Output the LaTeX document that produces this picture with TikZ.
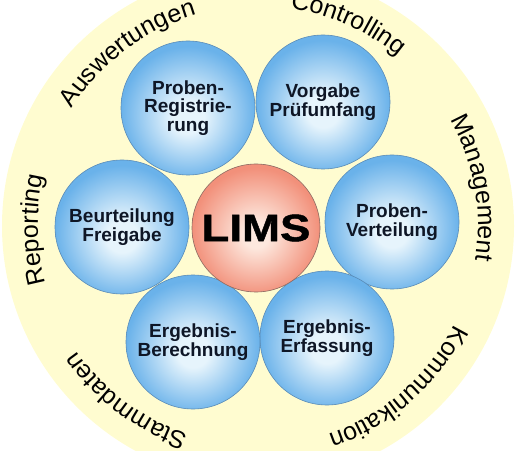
\documentclass[tikz,border=0pt]{standalone}
\usepackage{fontspec}
\setmainfont{Liberation Sans}
\newfontfamily\limsfont{Liberation Sans}[FakeStretch=1.2,FakeBold=1.2]
\usepackage{tikz}
\usetikzlibrary{decorations.text}

\definecolor{ringyellow}{HTML}{FFFCD0}
\definecolor{balledge}{HTML}{6AB2EA}
\definecolor{ballcenter}{HTML}{E6F4FC}
\definecolor{ballline}{HTML}{5A8CB8}
\definecolor{limsedge}{HTML}{F2907A}
\definecolor{limscenter}{HTML}{FDE8DE}
\definecolor{limsline}{HTML}{8C6A62}
\definecolor{balltext}{HTML}{0E1626}

\pgfdeclareradialshading{blueball}{\pgfpoint{0bp}{-4bp}}{color(0bp)=(ballcenter); color(6bp)=(ballcenter); color(25bp)=(balledge); color(50bp)=(balledge)}
\pgfdeclareradialshading{redball}{\pgfpoint{0bp}{-3bp}}{color(0bp)=(limscenter); color(5bp)=(limscenter); color(25bp)=(limsedge); color(50bp)=(limsedge)}

\newcommand\ringfont{\fontsize{25}{25}\selectfont}
\newcommand\ringlabel[2]{\path[ringtext={#2}] (c) ++({#1+70}:220pt) arc[start angle={#1+70}, end angle={#1-70}, radius=220pt];}

\begin{document}
\begin{tikzpicture}[
    x=1pt, y=1pt,
    ball/.style={circle, draw=ballline, line width=0.6pt, shading=blueball, minimum size=134pt, inner sep=0pt,
        align=center, text=balltext, font=\fontsize{19}{18.5}\selectfont\bfseries},
    limsball/.style={circle, draw=limsline, line width=0.6pt, shading=redball, minimum size=128pt, inner sep=0pt,
        font=\fontsize{38}{38}\selectfont\limsfont\bfseries},
    ringtext/.style={decorate, decoration={text along path, text align=center, text={|\ringfont|#1}}}
]
\useasboundingbox (0,0) rectangle (516,450);
\clip (0,0) rectangle (516,450);
\coordinate (c) at (258,224);
\fill[ringyellow] (c) circle (256pt);

% outer ring
\ringlabel{181}{Reporting}
\ringlabel{127}{Auswertungen}
\ringlabel{66}{Controlling}
\ringlabel{10}{Management}
\ringlabel{-49}{Kommunikation}
\ringlabel{-127}{Stammdaten}

% process balls
\node[ball] (probreg) at (188,342) {Proben-\\Registrie-\\rung};
\node[ball] (vorgabe) at (323,348) {Vorgabe\\Prüfumfang};
\node[ball] (probvert) at (392,228) {Proben-\\Verteilung};
\node[ball] (erfassung) at (327,112) {Ergebnis-\\Erfassung};
\node[ball] (berechnung) at (193,108) {Ergebnis-\\Berechnung};
\node[ball] (beurteilung) at (122,223) {Beurteilung\\Freigabe};
\node[limsball] (lims) at (256,222) {LIMS};
\end{tikzpicture}
\end{document}
